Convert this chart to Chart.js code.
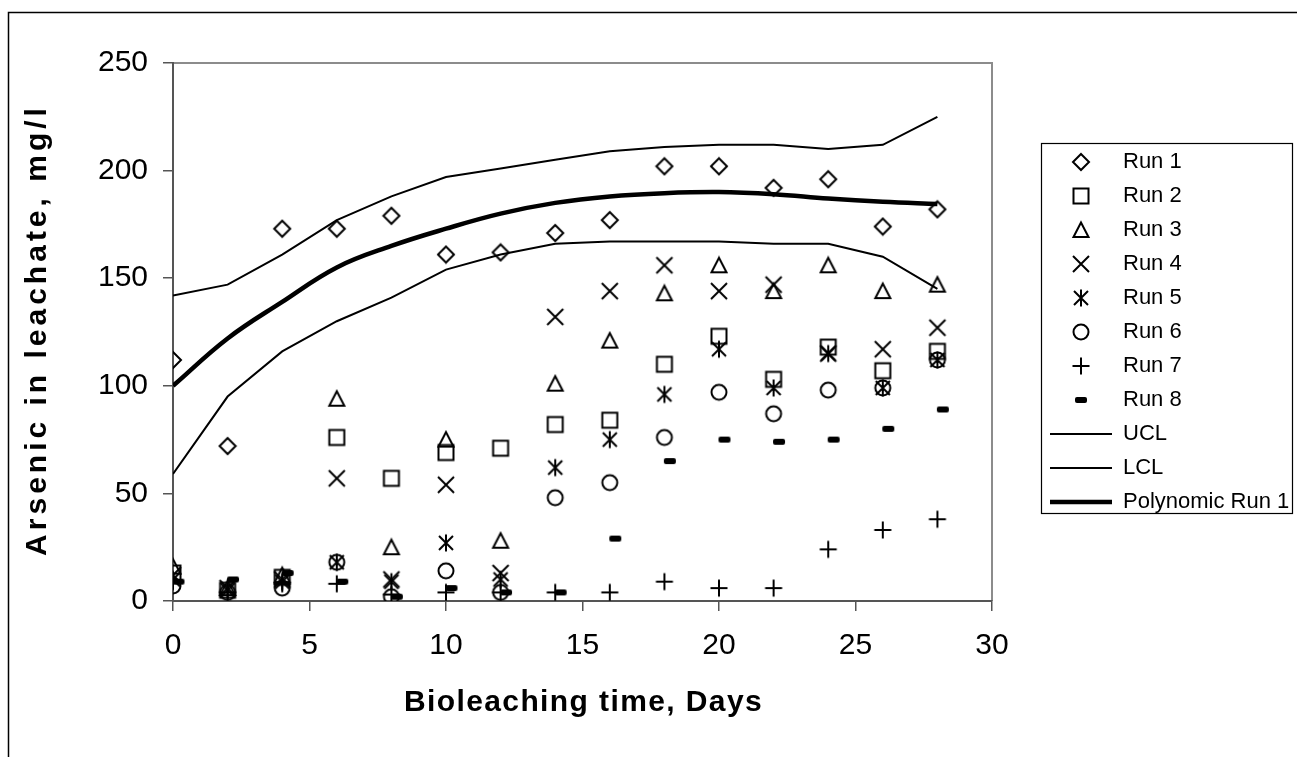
<!DOCTYPE html>
<html>
<head>
<meta charset="utf-8">
<title>Arsenic in leachate</title>
<script src="https://cdn.jsdelivr.net/npm/chart.js@4.4.1/dist/chart.umd.min.js"></script>
<style>
  html, body { margin: 0; padding: 0; background: #fff; }
  #wrap { width: 1297px; height: 757px; }
</style>
</head>
<body>
<div id="wrap"><canvas id="chart" width="1297" height="757"></canvas></div>
<script>
// sampling days
const days  = [0, 2, 4, 6, 8, 10, 12, 14, 16, 18, 20, 22, 24, 26, 28];
const days8 = [0.2, 2.2, 4.2, 6.2, 8.2, 10.2, 12.2, 14.2, 16.2, 18.2, 20.2, 22.2, 24.2, 26.2, 28.2]; // run 8 sits a bit to the right

// arsenic, mg/l
const run1 = [112, 72, 173, 173, 179, 161, 162, 171, 177, 202, 202, 192, 196, 174, 182];
const run2 = [13, 5, 11, 76, 57, 69, 71, 82, 84, 110, 123, 103, 118, 107, 116];
const run3 = [16, 6, 12, 94, 25, 75, 28, 101, 121, 143, 156, 144, 156, 144, 147];
const run4 = [12, 6, 10, 57, 10, 54, 13, 132, 144, 156, 144, 147, 115, 117, 127];
const run5 = [10, 5, 9, 18, 9, 27, 10, 62, 75, 96, 117, 99, 115, 99, 112];
const run6 = [7, 4, 6, 18, 2, 14, 4, 48, 55, 76, 97, 87, 98, 99, 112];
const run7 = [9, 4, 8, 8, 3, 4, 4, 4, 4, 9, 6, 6, 24, 33, 38];
const run8 = [9, 10, 13, 9, 2, 6, 4, 4, 29, 65, 75, 74, 75, 80, 89];
const ucl  = [142, 147, 161, 177, 188, 197, 201, 205, 209, 211, 212, 212, 210, 212, 225];
const lcl  = [59, 95, 116, 130, 141, 154, 161, 166, 167, 167, 167, 166, 166, 160, 145];
const poly = [100, 122, 139, 155, 165, 173, 180, 185, 188, 189.5, 190, 189, 187, 185.5, 184.5];

const yTicks = [0, 50, 100, 150, 200, 250];
const xTicks = [0, 5, 10, 15, 20, 25, 30];
const xTitle = 'Bioleaching time, Days';
const yTitle = 'Arsenic in leachate, mg/l';

const FONT = '"Liberation Sans", Arial, sans-serif';
Chart.defaults.font.family = FONT;
Chart.defaults.color = '#000';

// little marker bitmaps, Excel style
function marker(kind){
  const c = document.createElement('canvas');
  c.width = 20; c.height = 20;
  const g = c.getContext('2d');
  g.strokeStyle = '#000'; g.fillStyle = '#000'; g.lineWidth = 2;
  g.beginPath();
  if(kind === 'diamond'){ g.moveTo(10,2); g.lineTo(18,10); g.lineTo(10,18); g.lineTo(2,10); g.closePath(); }
  if(kind === 'square'){ g.rect(2.5,2.5,15,15); }
  if(kind === 'triangle'){ g.moveTo(10,2.5); g.lineTo(17.5,17); g.lineTo(2.5,17); g.closePath(); }
  if(kind === 'x'){ g.moveTo(2,2); g.lineTo(18,18); g.moveTo(18,2); g.lineTo(2,18); }
  if(kind === 'star'){ g.moveTo(3,3); g.lineTo(17,17); g.moveTo(17,3); g.lineTo(3,17); g.moveTo(10,1.5); g.lineTo(10,18.5); }
  if(kind === 'circle'){ g.arc(10,10,7.5,0,Math.PI*2); }
  if(kind === 'plus'){ g.moveTo(1.5,10); g.lineTo(18.5,10); g.moveTo(10,1.5); g.lineTo(10,18.5); }
  if(kind === 'dash'){ g.roundRect(4,7,12,6,2); g.fill(); return c; }
  g.stroke();
  return c;
}

function pts(xs, ys){ return xs.map((x, i) => ({ x, y: ys[i] })); }

function run(label, xs, ys, kind){
  return { label, data: pts(xs, ys), pointStyle: marker(kind), pointRadius: 9, showLine: false };
}

function line(label, ys, width, tension){
  return { label, data: pts(days, ys), showLine: true, borderColor: '#000', borderWidth: width,
           pointRadius: 0, pointStyle: 'line', pointBorderColor: '#000', pointBorderWidth: width, tension };
}

const excelLook = {
  id: 'excelLook',
  beforeDraw(chart){
    const ctx = chart.ctx, a = chart.chartArea;
    ctx.save();
    ctx.fillStyle = '#fff';
    ctx.fillRect(0, 0, chart.width, chart.height);
    ctx.strokeStyle = '#000'; ctx.lineWidth = 1.5;
    ctx.strokeRect(8.5, 12.5, chart.width + 20, chart.height + 20);
    ctx.strokeStyle = '#8c8c8c'; ctx.lineWidth = 2;
    ctx.beginPath(); ctx.moveTo(a.left, a.top); ctx.lineTo(a.right, a.top); ctx.lineTo(a.right, a.bottom); ctx.stroke();
    ctx.restore();
  },
  afterLayout(chart){
    // put the legend to the right of the plot, like the Excel one
    const lg = chart.legend, a = chart.chartArea;
    lg.left = a.right + 46; lg.width = 256; lg.right = lg.left + lg.width;
    lg.top = 139; lg.height = 400; lg.bottom = lg.top + lg.height;
  },
  afterDraw(chart){
    const ctx = chart.ctx, lg = chart.legend, a = chart.chartArea;
    ctx.save();
    ctx.strokeStyle = '#000'; ctx.lineWidth = 1.2;
    ctx.strokeRect(lg.left + 3.5, lg.top + 4.5, 251, 370);
    // axis titles, drawn here because Excel spaces the letters out
    ctx.font = 'bold 30px ' + FONT;
    ctx.fillStyle = '#000'; ctx.textAlign = 'center'; ctx.textBaseline = 'middle';
    ctx.letterSpacing = '1.4px';
    ctx.fillText(xTitle, (a.left + a.right) / 2 + 1, chart.scales.x.bottom - 54);
    ctx.letterSpacing = '4px';
    ctx.translate(chart.scales.y.left + 38, (a.top + a.bottom) / 2);
    ctx.rotate(-Math.PI / 2);
    ctx.fillText(yTitle, 2, 0);
    ctx.restore();
  }
};

new Chart(document.getElementById('chart'), {
  type: 'scatter',
  data: {
    datasets: [
      run('Run 1', days, run1, 'diamond'),
      run('Run 2', days, run2, 'square'),
      run('Run 3', days, run3, 'triangle'),
      run('Run 4', days, run4, 'x'),
      run('Run 5', days, run5, 'star'),
      run('Run 6', days, run6, 'circle'),
      run('Run 7', days, run7, 'plus'),
      run('Run 8', days8, run8, 'dash'),
      line('UCL', ucl, 2, 0),
      line('LCL', lcl, 2, 0),
      line('Polynomic Run 1', poly, 4.5, 0.4)
    ]
  },
  options: {
    responsive: false,
    animation: false,
    events: [],
    layout: { padding: { left: 0, top: 63, right: 305, bottom: 0 } },
    plugins: {
      tooltip: { enabled: false },
      legend: {
        position: 'chartArea',
        align: 'start',
        labels: { usePointStyle: true, pointStyleWidth: 62, padding: 12, color: '#000', font: { size: 22 } }
      }
    },
    scales: {
      x: {
        type: 'linear', min: 0, max: 30,
        afterBuildTicks: s => { s.ticks = xTicks.map(v => ({ value: v })); },
        afterFit: s => { s.height = 156; },
        ticks: { padding: 17, color: '#000', font: { size: 30 } },
        grid: { drawOnChartArea: false, drawTicks: true, tickLength: 10, color: '#555', lineWidth: 1.5 },
        border: { color: '#555', width: 2 },
        title: { display: false, text: xTitle }
      },
      y: {
        min: 0, max: 250,
        afterBuildTicks: s => { s.ticks = yTicks.map(v => ({ value: v })); },
        afterFit: s => { s.width = 173; },
        ticks: { padding: 15, color: '#000', font: { size: 30 } },
        grid: { drawOnChartArea: false, drawTicks: true, tickLength: 10, color: '#555', lineWidth: 1.5 },
        border: { color: '#555', width: 2 },
        title: { display: false, text: yTitle }
      }
    }
  },
  plugins: [excelLook]
});
</script>
</body>
</html>
